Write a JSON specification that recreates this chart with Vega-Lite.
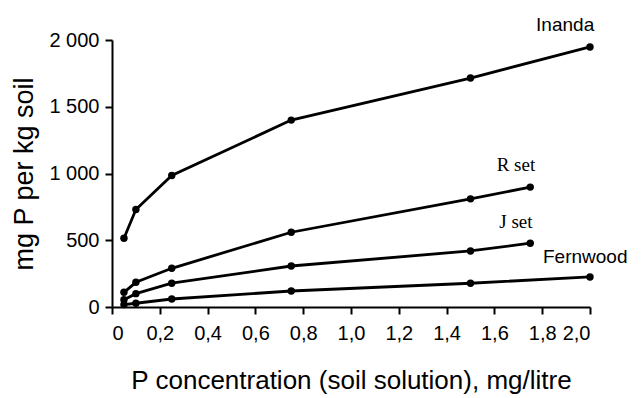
{
  "$schema": "https://vega.github.io/schema/vega-lite/v6.json",
  "width": 478,
  "height": 267,
  "autosize": "none",
  "padding": {"left": 112, "top": 40, "right": 51, "bottom": 91},
  "background": "white",
  "config": {
    "view": {"stroke": null},
    "font": "Liberation Sans",
    "axis": {
      "grid": false,
      "domainColor": "black",
      "domainWidth": 2,
      "tickColor": "black",
      "tickWidth": 2,
      "tickSize": 7,
      "labelColor": "black",
      "labelFont": "Liberation Sans",
      "labelFontSize": 20,
      "labelFontWeight": "normal",
      "titleColor": "black",
      "titleFont": "Liberation Sans",
      "titleFontWeight": "normal"
    }
  },
  "datasets": {
    "series": [
      {"series": "Inanda", "c": 0.05, "p": 515},
      {"series": "Inanda", "c": 0.1, "p": 730},
      {"series": "Inanda", "c": 0.25, "p": 985},
      {"series": "Inanda", "c": 0.75, "p": 1400},
      {"series": "Inanda", "c": 1.5, "p": 1715},
      {"series": "Inanda", "c": 2.0, "p": 1948},
      {"series": "R set", "c": 0.05, "p": 110},
      {"series": "R set", "c": 0.1, "p": 185},
      {"series": "R set", "c": 0.25, "p": 290},
      {"series": "R set", "c": 0.75, "p": 560},
      {"series": "R set", "c": 1.5, "p": 810},
      {"series": "R set", "c": 1.75, "p": 898},
      {"series": "J set", "c": 0.05, "p": 55},
      {"series": "J set", "c": 0.1, "p": 100},
      {"series": "J set", "c": 0.25, "p": 178},
      {"series": "J set", "c": 0.75, "p": 307},
      {"series": "J set", "c": 1.5, "p": 420},
      {"series": "J set", "c": 1.75, "p": 478},
      {"series": "Fernwood", "c": 0.05, "p": 18},
      {"series": "Fernwood", "c": 0.1, "p": 28},
      {"series": "Fernwood", "c": 0.25, "p": 60},
      {"series": "Fernwood", "c": 0.75, "p": 120},
      {"series": "Fernwood", "c": 1.5, "p": 178},
      {"series": "Fernwood", "c": 2.0, "p": 225}
    ],
    "labels": [
      {"label": "Inanda", "c": 1.896, "p": 2112, "font": "sans"},
      {"label": "R set", "c": 1.69, "p": 1064, "font": "serif"},
      {"label": "J set", "c": 1.69, "p": 637, "font": "serif"},
      {"label": "Fernwood", "c": 1.98, "p": 375, "font": "sans"}
    ]
  },
  "layer": [
    {
      "data": {"name": "series"},
      "mark": {"type": "line", "color": "black", "strokeWidth": 2.8,
               "point": {"filled": true, "color": "black", "size": 55, "opacity": 1}},
      "encoding": {
        "x": {"field": "c", "type": "quantitative",
              "scale": {"domain": [0, 2.0], "nice": false, "zero": false},
              "axis": {"values": [0, 0.2, 0.4, 0.6, 0.8, 1.0, 1.2, 1.4, 1.6, 1.8, 2.0],
                       "labelExpr": "datum.value == 0 ? '0' : replace(format(datum.value, '.1f'), '.', ',')",
                       "labelPadding": 9,
                       "title": "P concentration (soil solution), mg/litre",
                       "titleFontSize": 26,
                       "titlePadding": 24}},
        "y": {"field": "p", "type": "quantitative",
              "scale": {"domain": [0, 2000], "nice": false},
              "axis": {"values": [0, 500, 1000, 1500, 2000],
                       "labelExpr": "replace(format(datum.value, ','), ',', ' ')",
                       "labelPadding": 6,
                       "title": "mg P per kg soil",
                       "titleFontSize": 27,
                       "titlePadding": 10}},
        "detail": {"field": "series"}
      }
    },
    {
      "data": {"name": "labels"},
      "transform": [{"filter": "datum.font == 'sans'"}],
      "mark": {"type": "text", "font": "Liberation Sans", "fontSize": 19, "color": "black", "align": "center", "baseline": "middle"},
      "encoding": {
        "x": {"field": "c", "type": "quantitative"},
        "y": {"field": "p", "type": "quantitative"},
        "text": {"field": "label"}
      }
    },
    {
      "data": {"name": "labels"},
      "transform": [{"filter": "datum.font == 'serif'"}],
      "mark": {"type": "text", "font": "Liberation Serif", "fontSize": 19, "color": "black", "align": "center", "baseline": "middle"},
      "encoding": {
        "x": {"field": "c", "type": "quantitative"},
        "y": {"field": "p", "type": "quantitative"},
        "text": {"field": "label"}
      }
    }
  ]
}
